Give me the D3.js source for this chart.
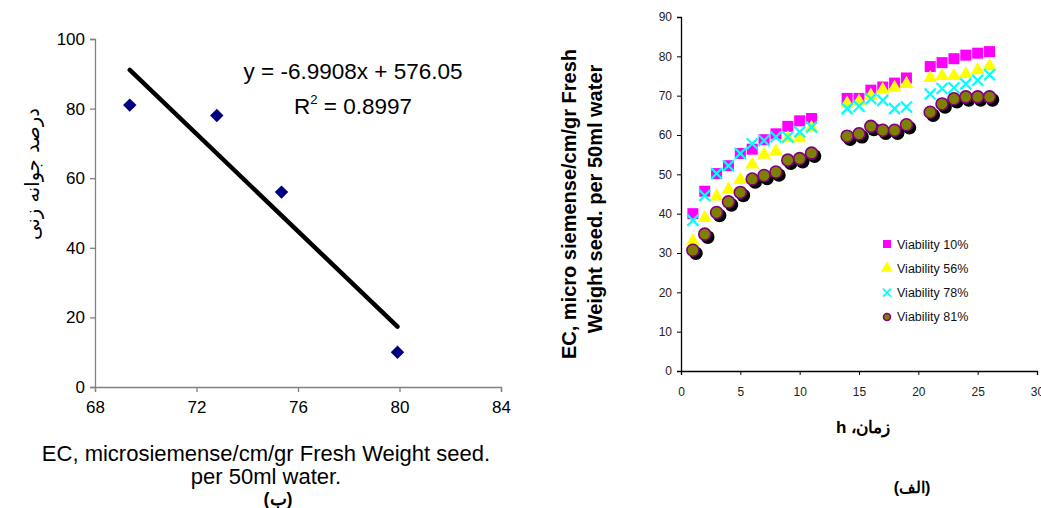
<!DOCTYPE html>
<html>
<head>
<meta charset="utf-8">
<script src="https://cdn.jsdelivr.net/npm/d3@7"></script>
<style>
  body { margin: 0; background: #fff; }
  svg { display: block; font-family: "Liberation Sans", Arial, sans-serif; }
</style>
</head>
<body>
<svg id="chart" width="1041" height="508"></svg>
<script>
// left panel (ب): germination % vs EC
var ecValues = [69.37, 72.8, 75.35, 79.92];
var germination = [81, 78, 56, 10];
var fitSlope = -6.9908, fitIntercept = 576.05;
var leftXTicks = [68, 72, 76, 80, 84];
var leftYTicks = [0, 20, 40, 60, 80, 100];

// right panel (الف): EC over time per viability level
var hours = [1, 2, 3, 4, 5, 6, 7, 8, 9, 10, 11, 14, 15, 16, 17, 18, 19, 21, 22, 23, 24, 25, 26];
var via10 = [40, 45.7, 50.2, 52.2, 55.3, 56.4, 58.8, 60.3, 62.2, 63.6, 64.2, 69.3, 69.3, 71.4, 72.2, 73.2, 74.5, 77.4, 78.4, 79.4, 80.3, 80.8, 81.2];
var via56 = [33, 38.9, 44.4, 46.1, 48.6, 52.5, 55, 55.8, 59.2, 59.2, 61.8, 68, 68.5, 70, 71.5, 72, 73, 74.5, 75, 75, 75.5, 76.5, 77.5];
var via78 = [38.3, 44.6, 50.2, 52.2, 55.3, 57.8, 58.6, 59.5, 59.5, 60.8, 62, 66.7, 67.3, 69.2, 68.8, 66.7, 67.1, 70.4, 71.8, 72, 73, 73.9, 75.3];
var via81 = [30.7, 34.8, 40.3, 43, 45.4, 48.8, 49.7, 50.6, 53.6, 54, 55.4, 59.7, 60.3, 62.2, 61.2, 61.2, 62.6, 65.8, 67.9, 69.2, 69.7, 69.7, 69.7];
var seriesNames = ["Viability 10%", "Viability 56%", "Viability 78%", "Viability 81%"];
var rightXTicks = [0, 5, 10, 15, 20, 25, 30];
var rightYTicks = [0, 10, 20, 30, 40, 50, 60, 70, 80, 90];

var svg = d3.select("#chart");

/***************** LEFT PANEL ******************/
var lx = d3.scaleLinear().domain([68, 84]).range([95, 501]);
var ly = d3.scaleLinear().domain([0, 100]).range([387, 39]);
var left = svg.append("g");

var lxAxis = left.append("g").attr("transform", "translate(0," + ly(0) + ")")
  .call(d3.axisBottom(lx).tickValues(leftXTicks).tickSize(5).tickPadding(9));
var lyAxis = left.append("g").attr("transform", "translate(" + lx(68) + ",0)")
  .call(d3.axisLeft(ly).tickValues(leftYTicks).tickSize(5).tickPadding(5));
[lxAxis, lyAxis].forEach(function(a){
  a.select(".domain").attr("stroke", "#808080").attr("stroke-width", 1.3);
  a.selectAll(".tick line").attr("stroke", "#808080").attr("stroke-width", 1.3);
  a.selectAll(".tick text").attr("font-size", 17).attr("fill", "#000")
    .attr("font-family", "Liberation Sans, Arial, sans-serif");
});

// trend line, over the data range
var x0 = d3.min(ecValues), x1 = d3.max(ecValues);
left.append("line")
  .attr("x1", lx(x0)).attr("y1", ly(fitSlope * x0 + fitIntercept))
  .attr("x2", lx(x1)).attr("y2", ly(fitSlope * x1 + fitIntercept))
  .attr("stroke", "#000").attr("stroke-width", 4.5).attr("stroke-linecap", "round");

left.selectAll("path.diamond")
  .data(ecValues.map(function(v, i){ return {x: v, y: germination[i]}; }))
  .enter().append("path")
    .attr("class", "diamond")
    .attr("d", d3.symbol(d3.symbolDiamond2, 115))
    .attr("transform", function(d){ return "translate(" + lx(d.x) + "," + ly(d.y) + ")"; })
    .attr("fill", "#000080");

left.append("text").attr("x", 353).attr("y", 79).attr("text-anchor", "middle")
  .attr("font-size", 22.5).text("y = -6.9908x + 576.05");
var r2 = left.append("text").attr("x", 353).attr("y", 114).attr("text-anchor", "middle")
  .attr("font-size", 22.5);
r2.append("tspan").text("R");
r2.append("tspan").attr("font-size", 13).attr("dy", -10).text("2");
r2.append("tspan").attr("dy", 10).text(" = 0.8997");

left.append("text")
  .attr("transform", "translate(39,174) rotate(-90)")
  .attr("text-anchor", "middle").attr("font-size", 19.5)
  .attr("font-family", "DejaVu Sans, sans-serif")
  .text("درصد جوانه زنی");

left.append("text").attr("x", 266).attr("y", 461).attr("text-anchor", "middle")
  .attr("font-size", 22).text("EC, microsiemense/cm/gr Fresh Weight seed.");
left.append("text").attr("x", 266).attr("y", 484).attr("text-anchor", "middle")
  .attr("font-size", 22).text("per 50ml water.");
left.append("text").attr("x", 278).attr("y", 505).attr("text-anchor", "middle")
  .attr("font-size", 18).attr("font-weight", "bold").text("(ب)");

/***************** RIGHT PANEL ******************/
var rx = d3.scaleLinear().domain([0, 30]).range([681, 1037]);
var ry = d3.scaleLinear().domain([0, 90]).range([371, 17]);
var right = svg.append("g");

var rxAxis = right.append("g").attr("transform", "translate(0," + ry(0) + ")")
  .call(d3.axisBottom(rx).tickValues(rightXTicks).tickSize(4).tickPadding(12));
var ryAxis = right.append("g").attr("transform", "translate(" + rx(0) + ",0)")
  .call(d3.axisLeft(ry).tickValues(rightYTicks).tickSize(4).tickPadding(5));
[rxAxis, ryAxis].forEach(function(a){
  a.select(".domain").attr("stroke", "#000").attr("stroke-width", 1.3);
  a.selectAll(".tick line").attr("stroke", "#000");
  a.selectAll(".tick text").attr("font-size", 12).attr("fill", "#222")
    .attr("font-family", "Liberation Sans, Arial, sans-serif");
});

function pts(vals){ return hours.map(function(h, i){ return {x: h, y: vals[i]}; }); }
function tr(d){ return "translate(" + rx(d.x) + "," + ry(d.y) + ")"; }

// viability 10%: magenta squares
right.selectAll("rect.v10").data(pts(via10)).enter().append("rect")
  .attr("class", "v10")
  .attr("x", function(d){ return rx(d.x) - 5.5; })
  .attr("y", function(d){ return ry(d.y) - 5.5; })
  .attr("width", 11).attr("height", 11).attr("fill", "#ff00ff");

// viability 56%: yellow triangles
right.selectAll("path.v56").data(pts(via56)).enter().append("path")
  .attr("class", "v56")
  .attr("d", d3.symbol(d3.symbolTriangle, 85))
  .attr("transform", tr).attr("fill", "#ffff00");

// viability 78%: cyan crosses
right.selectAll("path.v78").data(pts(via78)).enter().append("path")
  .attr("class", "v78")
  .attr("d", "M-5.5,-5.5L5.5,5.5M-5.5,5.5L5.5,-5.5")
  .attr("transform", tr).attr("stroke", "#00ffff").attr("stroke-width", 2.2).attr("fill", "none");

// viability 81%: olive circles with shadow
var c81 = right.append("g");
c81.selectAll("circle.sh").data(pts(via81)).enter().append("circle")
  .attr("class", "sh")
  .attr("cx", function(d){ return rx(d.x) + 3; })
  .attr("cy", function(d){ return ry(d.y) + 3; })
  .attr("r", 6.8).attr("fill", "#000");
c81.selectAll("circle.v81").data(pts(via81)).enter().append("circle")
  .attr("class", "v81")
  .attr("cx", function(d){ return rx(d.x); })
  .attr("cy", function(d){ return ry(d.y); })
  .attr("r", 6).attr("fill", "#808000").attr("stroke", "#800080").attr("stroke-width", 1.6);

// legend
var lg = right.append("g").attr("transform", "translate(887,244)");
var rowH = 24.3;
lg.append("rect").attr("x", -4).attr("y", -4).attr("width", 8).attr("height", 8).attr("fill", "#ff00ff");
lg.append("path").attr("d", d3.symbol(d3.symbolTriangle, 60)).attr("transform", "translate(0," + rowH + ")").attr("fill", "#ffff00");
lg.append("path").attr("d", "M-4,-4L4,4M-4,4L4,-4").attr("transform", "translate(0," + (2 * rowH) + ")")
  .attr("stroke", "#00ffff").attr("stroke-width", 1.8);
lg.append("circle").attr("cy", 3 * rowH).attr("r", 3.5).attr("fill", "#808000").attr("stroke", "#800080").attr("stroke-width", 1.5);
lg.selectAll("text").data(seriesNames).enter().append("text")
  .attr("x", 10).attr("y", function(d, i){ return i * rowH + 4.5; })
  .attr("font-size", 12.5).attr("fill", "#111").text(function(d){ return d; });

// axis titles
right.append("text")
  .attr("transform", "translate(576,204) rotate(-90)")
  .attr("text-anchor", "middle").attr("font-size", 20).attr("font-weight", "bold")
  .text("EC, micro siemense/cm/gr Fresh");
right.append("text")
  .attr("transform", "translate(602,199) rotate(-90)")
  .attr("text-anchor", "middle").attr("font-size", 20).attr("font-weight", "bold")
  .text("Weight seed. per 50ml water");
right.append("text").attr("x", 863).attr("y", 433).attr("text-anchor", "middle")
  .attr("font-size", 17).attr("font-weight", "bold").attr("direction", "rtl")
  .text("زمان، h");
right.append("text").attr("x", 912).attr("y", 493).attr("text-anchor", "middle")
  .attr("font-size", 16).attr("font-weight", "bold")
  .text("(الف)");
</script>
</body>
</html>
